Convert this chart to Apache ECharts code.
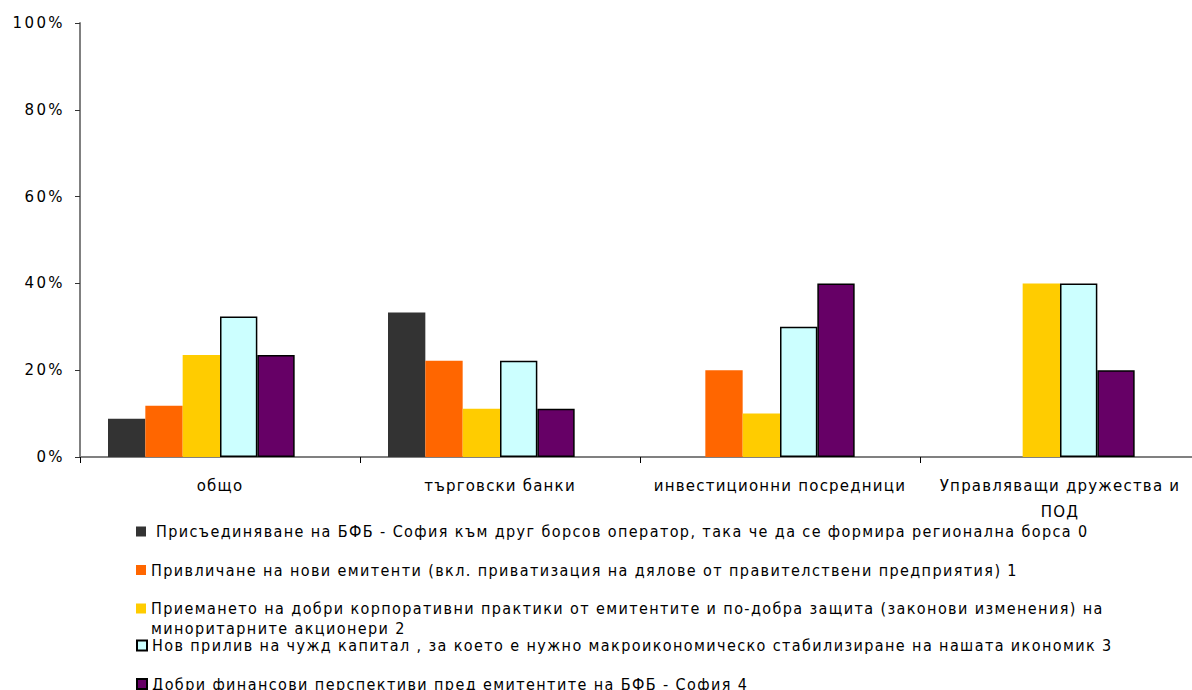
<!DOCTYPE html>
<html>
<head>
<meta charset="utf-8">
<script src="https://cdn.jsdelivr.net/npm/echarts@6/dist/echarts.min.js"></script>
<style>
  html, body { margin: 0; padding: 0; background: #ffffff; }
  #chart { width: 1192px; height: 690px; letter-spacing: 1.2px; }
  /* wider tracking for the value axis and the legend */
  #chart text[style*="Verdana"] { letter-spacing: 2.4px; }
  #chart text[style*="Tahoma"] { letter-spacing: 1.4px; }
</style>
</head>
<body>
<div id="chart"></div>
<script>
// Groups of respondents
const categories = ['общо', 'търговски банки', 'инвестиционни посредници', 'Управляващи дружества и\nПОД'];

// Answer options (one series each)
const seriesNames = [
  'Присъединяване на БФБ - София към друг борсов оператор, така че да се формира регионална борса 0',
  'Привличане на нови емитенти (вкл. приватизация на дялове от правителствени предприятия) 1',
  'Приемането на добри корпоративни практики от емитентите и по-добра защита (законови изменения) на\nминоритарните акционери 2',
  'Нов прилив на чужд капитал , за което е нужно макроикономическо стабилизиране на нашата икономик 3',
  'Добри финансови перспективи пред емитентите на БФБ - София 4'
];

// Share of answers, %
const joinOperator   = [8.8, 33.3, 0, 0];
const newIssuers     = [11.8, 22.2, 20, 0];
const governance     = [23.5, 11.1, 10, 40];
const foreignCapital = [32.4, 22.2, 30, 40];
const prospects      = [23.5, 11.1, 40, 20];

const seriesValues = [joinOperator, newIssuers, governance, foreignCapital, prospects];
const seriesColors = ['#333333', '#ff6600', '#ffcc00', '#ccffff', '#660066'];
const outlined = [false, false, false, true, true];

const xFont = "'DejaVu Sans'";
const yFont = "Verdana, 'DejaVu Sans'";
const legendFont = "Tahoma, 'DejaVu Sans Condensed'";

const series = seriesNames.map((name, i) => ({
  name: name,
  type: 'bar',
  data: seriesValues[i],
  barGap: '0%',
  barCategoryGap: '20%',
  itemStyle: {
    color: seriesColors[i],
    borderColor: outlined[i] ? '#000000' : 'transparent',
    borderWidth: outlined[i] ? 1.5 : 0
  }
}));
// an unused slot after the five bars of each group
series.push({ name: 'spare', type: 'bar', data: [null, null, null, null], barGap: '0%', barCategoryGap: '20%' });

const legendTops = [521, 559.5, 598, 635, 673.5];
const legends = seriesNames.map((name, i) => ({
  data: [name],
  left: 136,
  top: legendTops[i],
  orient: 'vertical',
  padding: 0,
  icon: 'rect',
  itemWidth: 10,
  itemHeight: 10,
  selectedMode: false,
  // long names continue on a second line drawn below
  formatter: (n) => n.split('\n')[0],
  textStyle: {
    fontFamily: legendFont,
    fontSize: 16,
    color: '#000000',
    lineHeight: 21,
    padding: i === 0 ? [0, 0, 0, 5] : 0
  }
}));

// continuation lines of wrapped legend names
const continuation = [];
seriesNames.forEach((name, i) => {
  const parts = name.split('\n');
  if (parts.length > 1) {
    continuation.push({
      type: 'text',
      left: 151,
      top: legendTops[i] + 20,
      style: { text: parts.slice(1).join('\n'), fontFamily: legendFont, fontSize: 16, fill: '#000000', lineHeight: 21 }
    });
  }
});

const chart = echarts.init(document.getElementById('chart'), null, { renderer: 'svg' });
chart.setOption({
  animation: false,
  backgroundColor: '#ffffff',
  grid: { left: 80, top: 23, width: 1120, height: 434, outerBoundsMode: 'none', containLabel: false },
  legend: legends,
  graphic: continuation,
  xAxis: {
    type: 'category',
    data: categories,
    axisLine: { lineStyle: { color: '#808080', width: 2 } },
    axisTick: { show: true, length: 6, lineStyle: { color: '#000000', width: 1 } },
    axisLabel: { fontFamily: xFont, fontSize: 15, color: '#000000', margin: 16, lineHeight: 26, interval: 0 },
    splitLine: { show: false }
  },
  yAxis: {
    type: 'value',
    min: 0,
    max: 100,
    interval: 20,
    axisLine: { show: true, lineStyle: { color: '#808080', width: 2 } },
    axisTick: { show: true, length: 5, lineStyle: { color: '#333333', width: 1 } },
    axisLabel: { fontFamily: yFont, fontSize: 15, color: '#000000', margin: 15, formatter: '{value}%' },
    splitLine: { show: false }
  },
  series: series
});
</script>
</body>
</html>
